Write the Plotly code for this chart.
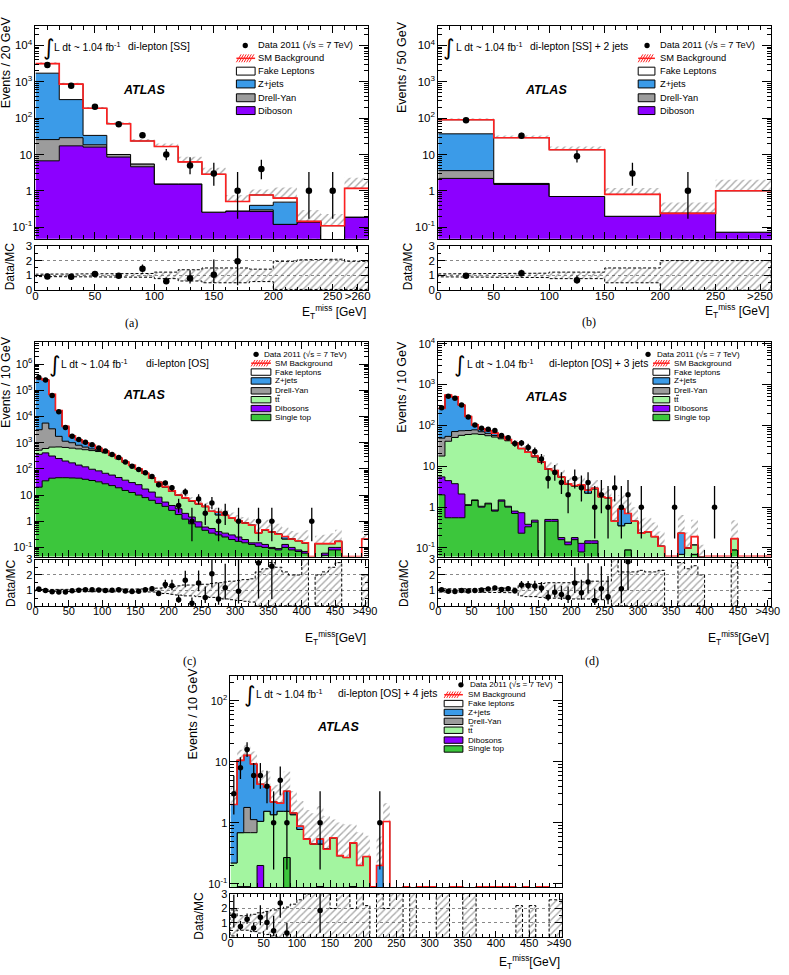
import numpy as np
import plotly.graph_objects as go

W, H = 789, 975
FONT = "Liberation Sans, Arial, Helvetica, sans-serif"
SERIF = "Liberation Serif, DejaVu Serif, serif"
PURPLE = '#8c00ff'; GRAY = '#9c9c9c'; BLUE = '#3b9be8'
LGREEN = '#a3f5a0'; DGREEN = '#3cc63c'; RED = '#ff2020'

# ---------------- (a) di-lepton [SS], 20 GeV bins (last = overflow >260)
a_edges = [0, 20, 40, 60, 80, 100, 120, 140, 160, 180, 200, 220, 240, 260, 280]
a_diboson = [6.7, 17.3, 16, 8.5, 4.6, 1.55, 1.55, 0.26, 0.28, 0.27, 0.12, 0.14, 0, 0.19]
a_drellyan = [19, 11.7, 2.5, 1.5, 0.9, 0, 0, 0, 0, 0.03, 0, 0, 0, 0]
a_zjets = [1694, 294, 15, 0, 0, 0, 0, 0, 0, 0.1, 0.37, 0, 0, 0]
a_fake = [1440, 540, 153, 60, 18, 15, 4.7, 2.6, 0.23, 0.37, 0.14, 0.005, 0.11, 0.98]
a_data = [2900, 780, 205, 68, 34, 10, 5, 3, 1, 4, 0, 1, 1, 0]
a_rel = [0.08, 0.09, 0.08, 0.10, 0.13, 0.22, 0.38, 0.5, 0.5, 0.42, 0.95, 1.05, 1.1, 0.95]

# ---------------- (b) di-lepton [SS] + 2 jets, 50 GeV bins (last = overflow >250)
b_edges = [0, 50, 100, 150, 200, 250, 300]
b_diboson = [2.2, 1.5, 0.7, 0.2, 0.24, 0.073]
b_drellyan = [1.4, 0.1, 0, 0, 0, 0]
b_zjets = [33.4, 0, 0, 0, 0, 0]
b_fake = [53, 27.4, 12.8, 0.6, 0, 0.93]
b_data = [88, 33, 9, 3, 1, 0]
b_rel = [0.1, 0.15, 0.22, 0.5, 1.0, 1.0]

# ---------------- (c) di-lepton [OS], 10 GeV bins (last = overflow >490)
c_edges = list(range(0, 510, 10))
c_singletop = [20, 35, 44, 46, 46, 45, 44, 40, 36, 32,
               27, 23, 19, 15, 12.5, 10, 8, 6.3, 4.8, 3.7,
               2.6, 1.8, 1.2, 0.8, 0.6, 0.45, 0.35, 0.3, 0.25, 0.2,
               0.17, 0.15, 0.13, 0.11, 0.1, 0.09, 0.08, 0.1, 0.08, 0.07,
               0.06, 0, 0, 0.05, 0.08, 0.08, 0, 0, 0, 0]
c_diboson = [340, 375, 266, 204, 154, 125, 96, 80, 61, 52,
             41, 35, 28, 22, 17.5, 15, 9, 6.7, 3.5, 1.7,
             1.4, 1.2, 0.8, 0.65, 0.35, 0.15, 0.18, 0.1, 0.1, 0.1,
             0.08, 0.05, 0.02, 0.04, 0.03, 0.01, 0.01, 0.03, 0.02, 0.01,
             0.01, 0, 0, 0.01, 0.02, 0.02, 0, 0, 0, 0]
c_ttbar = [160, 190, 370, 440, 460, 450, 440, 420, 403, 376,
           342, 262, 192, 140, 100, 71, 49.5, 32, 22, 15.1,
           10.1, 6.7, 5.6, 4.45, 3.6, 3.0, 1.82, 1.35, 1.3, 1.05,
           0.8, 0.66, 0.55, 0.21, 0.34, 0.29, 0.23, 0.08, 0.11, 0.10,
           0.08, 0, 0.14, 0.08, 0.04, 0.07, 0, 0, 0, 0]
c_drellyan = [2620, 5030, 2720, 1060, 480, 380, 220, 140, 80, 50,
              30, 20, 10, 6, 4, 2, 0, 0, 0, 0,
              0, 0, 0, 0, 0, 0, 0, 0, 0, 0,
              0, 0, 0, 0, 0, 0, 0, 0, 0, 0,
              0, 0, 0, 0, 0, 0, 0, 0, 0, 0]
c_zjets = [276860, 244370, 66600, 15250, 3060, 800, 500, 320, 210, 100,
           40, 10, 8, 5, 3, 2, 1.5, 1, 0.7, 0.5,
           0.4, 0.3, 0.2, 0.2, 0.15, 0.1, 0.05, 0.45, 0.05, 0,
           0, 0, 0, 0, 0, 0, 0, 0.05, 0, 0,
           0, 0, 0, 0, 0, 0, 0, 0, 0, 0]
c_fake = [0, 0, 0, 0, 0, 0, 0, 0, 0, 0,
          0, 0, 0, 0, 0, 0, 0, 0, 0, 0,
          0, 0, 0, 0, 0, 0, 0, 0, 0, 0,
          0, 0, 0, 0, 0, 0, 0, 0, 0, 0,
          0, 0, 0, 0, 0, 0, 0, 0, 0, 0.21]
c_data = [308000, 250000, 64000, 15300, 3780, 1764, 1326, 1050, 830, 628,
          480, 357, 270, 182, 127, 95, 71, 51, 25, 29,
          19, 4, 13, 1, 7, 2, 5, 1, 2, 0,
          1, 0, 0, 1, 0, 1, 0, 0, 0, 0,
          0, 1, 0, 0, 0, 0, 0, 0, 0, 0]
c_rel = [0.06, 0.06, 0.06, 0.06, 0.06, 0.06, 0.06, 0.07, 0.07, 0.07,
         0.08, 0.08, 0.08, 0.08, 0.08, 0.09, 0.09, 0.1, 0.15, 0.2,
         0.25, 0.3, 0.35, 0.35, 0.4, 0.4, 0.45, 0.5, 0.55, 0.6,
         0.65, 0.7, 0.75, 1.2, 1.4, 1.8, 1.5, 1.2, 1.0, 1.0,
         2.0, 0, 1.0, 1.2, 1.5, 1.8, 0, 0, 0, 1.0]

# ---------------- (d) di-lepton [OS] + 3 jets
d_edges = list(range(0, 510, 10))
d_singletop = [2.0, 0.55, 0.55, 0.55, 1.1, 1.45, 1.0, 1.2, 0.8, 1.4,
               1.0, 0.7, 0.23, 0.33, 0.43, 0, 0.45, 0.45, 0.16, 0.12,
               0.16, 0.08, 0.13, 0.13, 0, 0, 0, 0, 0.09, 0,
               0, 0, 0, 0, 0, 0, 0, 0, 0.07, 0,
               0, 0, 0, 0, 0.09, 0, 0, 0, 0, 0]
d_diboson = [3.5, 3.9, 3.2, 1.55, 0.05, 0.05, 0.05, 0.05, 0.05, 0.1,
             0.05, 0.1, 0.5, 0.05, 0.05, 0.05, 0.05, 0.05, 0.02, 0.02,
             0.02, 0.05, 0.02, 0.02, 0, 0, 0, 0, 0, 0,
             0, 0, 0, 0, 0, 0, 0, 0, 0, 0,
             0, 0, 0, 0, 0, 0, 0, 0, 0, 0]
d_ttbar = [12.3, 36.5, 47, 55, 58.8, 60.5, 59, 54.7, 51, 45.5,
           41, 35.2, 26.3, 21.6, 16.5, 12.4, 8, 7.3, 5.2, 3.46,
           3.1, 3.27, 2.05, 2.65, 1.8, 1.7, 0.45, 0.35, 0.31, 0.45,
           0.23, 0.25, 0.19, 0.11, 0, 0, 0.07, 0.1, 0.05, 0.06,
           0, 0, 0, 0, 0.08, 0, 0, 0, 0, 0]
d_drellyan = [31, 13, 20, 17, 15, 16, 10, 8, 5, 3,
              1.5, 0.5, 0, 0, 0, 0, 0, 0, 0, 0,
              0, 0, 0, 0, 0, 0, 0, 0, 0, 0,
              0, 0, 0, 0, 0, 0, 0, 0, 0, 0,
              0, 0, 0, 0, 0, 0, 0, 0, 0, 0]
d_zjets = [211, 496, 429, 241, 90, 25, 13, 10, 8, 3.5,
           1.5, 0.5, 0.3, 0, 0.8, 0.5, 0.1, 0.1, 0.1, 0.1,
           0.1, 0.1, 0.4, 0.1, 0, 0, 0, 0.55, 0.3, 0,
           0, 0, 0, 0, 0, 0, 0.16, 0, 0, 0,
           0, 0, 0, 0, 0, 0, 0, 0, 0, 0]
d_fake = [0, 0, 0, 0, 0, 0, 0, 0, 0, 0,
          0, 0, 0, 0, 0, 0, 0, 0, 0, 0,
          0, 0, 0, 0, 0, 0, 0, 0, 0, 0,
          0, 0, 0, 0, 0, 0, 0, 0, 0.07, 0,
          0, 0, 0, 0, 0, 0, 0, 0, 0, 0]
d_data = [270, 520, 465, 315, 160, 103, 85, 81, 75, 57,
          50, 36, 37, 29, 23, 15, 5, 7, 4, 2,
          5, 3, 4, 1, 2, 1, 3, 1, 2, 0,
          1, 0, 0, 0, 0, 1, 0, 0, 0, 0,
          0, 1, 0, 0, 0, 0, 0, 0, 0, 0]
d_rel = [0.1, 0.08, 0.08, 0.08, 0.1, 0.1, 0.12, 0.12, 0.12, 0.15,
         0.15, 0.15, 0.35, 0.4, 0.4, 0.45, 0.5, 0.5, 0.5, 0.5,
         0.55, 0.55, 0.55, 0.6, 0.6, 0.6, 2.5, 1.2, 1.2, 1.2,
         1.3, 1.2, 1.2, 1.3, 0, 0, 1.8, 1.4, 1.6, 1.0,
         0, 0, 0, 0, 1.8, 0, 0, 0, 0, 0]

# ---------------- (e) di-lepton [OS] + 4 jets
e_edges = list(range(0, 510, 10))
e_singletop = [0, 0, 0, 0, 0, 0, 0, 0, 0.27, 0,
               0, 0, 0, 0.09, 0, 0, 0, 0, 0.09, 0,
               0, 0, 0, 0, 0, 0, 0, 0, 0, 0,
               0, 0, 0, 0, 0, 0, 0, 0, 0, 0,
               0, 0, 0, 0, 0, 0, 0, 0, 0, 0]
e_diboson = [0, 0.09, 0.09, 0, 0.2, 0, 0, 0, 0, 0,
             0, 0, 0, 0, 0, 0, 0, 0, 0, 0,
             0, 0, 0, 0, 0, 0, 0, 0, 0, 0,
             0, 0, 0, 0, 0, 0, 0, 0, 0, 0,
             0, 0, 0, 0, 0, 0, 0, 0, 0, 0]
e_ttbar = [0.22, 0.6, 0.6, 0.69, 0.86, 1.55, 1.36, 1.55, 1.28, 1.36,
           0.78, 0.54, 0.45, 0.36, 0.37, 0.57, 0.29, 0.27, 0.38, 0.2,
           0.28, 0, 0, 0, 0.01, 0.01, 0, 0.01, 0, 0,
           0, 0.01, 0.01, 0, 0, 0.01, 0.01, 0, 0, 0,
           0, 0, 0, 0, 0, 0, 0, 0, 0, 0]
e_drellyan = [0, 0, 1.1, 0.44, 0, 0, 0, 0, 0, 0,
              0, 0, 0, 0, 0, 0, 0, 0, 0, 0,
              0, 0, 0, 0, 0, 0, 0, 0, 0, 0,
              0, 0, 0, 0, 0, 0, 0, 0, 0, 0,
              0, 0, 0, 0, 0, 0, 0, 0, 0, 0]
e_zjets = [1.78, 9.9, 11, 8.1, 3.24, 2.35, 0.84, 0.55, 1.75, 0.09,
           0.1, 0, 0, 0.09, 0, 0, 0, 0, 0, 0,
           0, 0, 0.2, 0, 0, 0, 0, 0, 0, 0,
           0, 0, 0, 0, 0, 0, 0, 0, 0, 0,
           0, 0, 0, 0, 0, 0, 0, 0, 0, 0]
e_fake = [0, 0, 0, 0, 0, 0, 0, 0, 0, 0,
          0, 0, 0, 0, 0, 0, 0, 0, 0, 0,
          0, 0, 0, 1.05, 0, 0, 0, 0, 0, 0,
          0, 0, 0, 0, 0, 0, 0, 0, 0, 0,
          0, 0, 0, 0.01, 0, 0.01, 0, 0, 0.01, 0.01]
e_data = [3, 8, 16, 6, 6, 4, 1, 5, 1, 0,
          0, 0, 0, 1, 0, 0, 0, 0, 0, 0,
          0, 0, 1, 0, 0, 0, 0, 0, 0, 0,
          0, 0, 0, 0, 0, 0, 0, 0, 0, 0,
          0, 0, 0, 0, 0, 0, 0, 0, 0, 0]
e_rel = [0.9, 0.5, 0.5, 0.6, 0.7, 0.8, 0.9, 1.0, 1.1, 1.3,
         1.6, 2.0, 2.2, 2.5, 2.5, 1.0, 2.5, 2.5, 1.0, 2.5,
         1.2, 0, 2.0, 1.0, 2.5, 2.5, 0, 2.5, 0, 0,
         0, 2.5, 2.5, 0, 0, 2.5, 2.5, 0, 0, 0,
         0, 0, 0, 1.2, 0, 1.2, 0, 0, 1.6, 1.6]

# tick labels
log_vals = [0.1, 1, 10, 100, 1000, 1e4, 1e5, 1e6]
log_text = ['10<sup>-1</sup>', '1', '10', '10<sup>2</sup>', '10<sup>3</sup>',
            '10<sup>4</sup>', '10<sup>5</sup>', '10<sup>6</sup>']
a_xt = [0, 50, 100, 150, 200, 250, 271]
a_xl = ['0', '50', '100', '150', '200', '250', '>260']
b_xt = [0, 50, 100, 150, 200, 250, 290]
b_xl = ['0', '50', '100', '150', '200', '250', '>250']
c_xt = [0, 50, 100, 150, 200, 250, 300, 350, 400, 450, 495]
c_xl = ['0', '50', '100', '150', '200', '250', '300', '350', '400', '450', '>490']

SS_LEG = ['Fake Leptons', 'Z+jets', 'Drell-Yan', 'Diboson']
OS_LEG = ['Fake leptons', 'Z+jets', 'Drell-Yan', 'TTBAR', 'Dibosons', 'Single top']

PANELS = [
    dict(edges=a_edges, stack=[(a_diboson, PURPLE), (a_drellyan, GRAY), (a_zjets, BLUE), (a_fake, 'white')],
         leg=SS_LEG, legcol=['white', BLUE, GRAY, PURPLE],
         data=a_data, rel=a_rel, box=(33, 371, 19, 235, 242, 287), yr=(-1.32, 4.54),
         xt=a_xt, xl=a_xl, tfs=11.5, ytitle='Events / 20 GeV', ytx=3, yty=56, rtx=8, rty=263,
         xtitle='E<sub>T</sub><sup>miss</sup> [GeV]', xty=309, cap='(a)', capx=130, capy=320,
         head='di-lepton [SS]', hx=(46, 50, 125), hy=40, atlas=(143, 84),
         L=dict(rows=[39, 52, 65, 78, 92, 105], sx=(237, 256), tx=257, dotx=246, dtx=257, h=8, fs=9.3), ms=6.5),
    dict(edges=b_edges, stack=[(b_diboson, PURPLE), (b_drellyan, GRAY), (b_zjets, BLUE), (b_fake, 'white')],
         leg=SS_LEG, legcol=['white', BLUE, GRAY, PURPLE],
         data=b_data, rel=b_rel, box=(442, 780, 19, 235, 242, 287), yr=(-1.32, 4.54),
         xt=b_xt, xl=b_xl, tfs=11.5, ytitle='Events / 50 GeV', ytx=405, yty=61, rtx=412, rty=263,
         xtitle='E<sub>T</sub><sup>miss</sup> [GeV]', xty=308, cap='(b)', capx=595, capy=319,
         head='di-lepton [SS] + 2 jets', hx=(452, 458, 533), hy=40, atlas=(551, 84),
         L=dict(rows=[39, 52, 65, 78, 92, 105], sx=(645, 662), tx=665, dotx=654, dtx=665, h=8, fs=9.3), ms=6.5),
    dict(edges=c_edges, stack=[(c_singletop, DGREEN), (c_diboson, PURPLE), (c_ttbar, LGREEN), (c_drellyan, GRAY),
                               (c_zjets, BLUE), (c_fake, 'white')],
         leg=OS_LEG, legcol=['white', BLUE, GRAY, LGREEN, PURPLE, DGREEN],
         data=c_data, rel=c_rel, box=(33, 371, 340, 557, 560, 607), yr=(-1.35, 6.83),
         xt=c_xt, xl=c_xl, tfs=11, ytitle='Events / 10 GeV', ytx=3, yty=380, rtx=8, rty=584,
         xtitle='E<sub>T</sub><sup>miss</sup>[GeV]', xty=640, cap='(c)', capx=189, capy=663,
         head='di-lepton [OS]', hx=(52, 57, 143), hy=361, atlas=(143, 393),
         L=dict(rows=[352, 361, 370, 379, 389, 398, 407, 416], sx=(252, 272), tx=274, dotx=257, dtx=263, h=6.5, fs=8.1), ms=5.5),
    dict(edges=d_edges, stack=[(d_singletop, DGREEN), (d_diboson, PURPLE), (d_ttbar, LGREEN), (d_drellyan, GRAY),
                               (d_zjets, BLUE), (d_fake, 'white')],
         leg=OS_LEG, legcol=['white', BLUE, GRAY, LGREEN, PURPLE, DGREEN],
         data=d_data, rel=d_rel, box=(442, 780, 340, 557, 560, 607), yr=(-1.21, 4.03),
         xt=c_xt, xl=c_xl, tfs=11, ytitle='Events / 10 GeV', ytx=405, yty=385, rtx=407, rty=584,
         xtitle='E<sub>T</sub><sup>miss</sup>[GeV]', xty=640, cap='(d)', capx=598, capy=663,
         head='di-lepton [OS] + 3 jets', hx=(464, 469, 552), hy=361, atlas=(551, 395),
         L=dict(rows=[352, 361, 370, 379, 389, 398, 407, 416], sx=(660, 677), tx=679, dotx=655, dtx=662, h=6.5, fs=8.1), ms=5.5),
    dict(edges=e_edges, stack=[(e_singletop, DGREEN), (e_diboson, PURPLE), (e_ttbar, LGREEN), (e_drellyan, GRAY),
                               (e_zjets, BLUE), (e_fake, 'white')],
         leg=OS_LEG, legcol=['white', BLUE, GRAY, LGREEN, PURPLE, DGREEN],
         data=e_data, rel=e_rel, box=(231, 568, 678, 892, 899, 943), yr=(-1.054, 2.41),
         xt=c_xt, xl=c_xl, tfs=11, ytitle='Events / 10 GeV', ytx=193, yty=716, rtx=199, rty=921,
         xtitle='E<sub>T</sub><sup>miss</sup>[GeV]', xty=968, cap=None, capx=0, capy=0,
         head='di-lepton [OS] + 4 jets', hx=(250, 255, 338), hy=696, atlas=(340, 730),
         L=dict(rows=[687, 697, 706, 715, 724, 733, 743, 752], sx=(448, 467), tx=470, dotx=465, dtx=472, h=6.5, fs=8.1), ms=5.5),
]

FLOOR = 1e-6


def X(p):
    return p / W


def Y(p):
    return 1 - p / H


def garwood(n):
    n = np.asarray(n, float)
    ns = np.maximum(n, 1e-9)
    lo = np.where(n > 0, ns * (1 - 1 / (9 * ns) - 1 / (3 * np.sqrt(ns))) ** 3, 0.0)
    up = (n + 1) * (1 - 1 / (9 * (n + 1)) + 1 / (3 * np.sqrt(n + 1))) ** 3
    return n - lo, up - n


def band_outline(edges, lo, hi, mask):
    xs, ys = [], []
    n = len(mask)
    i = 0
    while i < n:
        if not mask[i]:
            i += 1
            continue
        j = i
        while j + 1 < n and mask[j + 1]:
            j += 1
        ux, uy, lx, ly = [], [], [], []
        for k in range(i, j + 1):
            ux += [edges[k], edges[k + 1]]; uy += [hi[k], hi[k]]
            lx += [edges[k], edges[k + 1]]; ly += [lo[k], lo[k]]
        xs += ux + lx[::-1] + [ux[0], None]
        ys += uy + ly[::-1] + [uy[0], None]
        i = j + 1
    return xs, ys


def sid(n):
    return '' if n == 1 else str(n)


fig = go.Figure()
shapes, annos = [], []
lay = {}
PAT = dict(shape='/', fgcolor='#555555', bgcolor='rgba(0,0,0,0)', size=5, solidity=0.28)

for i, P in enumerate(PANELS):
    mi, ri = 2 * i + 1, 2 * i + 2
    xm, ym, xr, yr = 'x' + sid(mi), 'y' + sid(mi), 'x' + sid(ri), 'y' + sid(ri)
    edges = np.array(P['edges'], float)
    cen = 0.5 * (edges[:-1] + edges[1:])
    wid = np.diff(edges)
    comps = np.array([s[0] for s in P['stack']], float)
    cum = np.cumsum(comps, axis=0)
    total = cum[-1]
    rel = np.array(P['rel'], float)
    data = np.array(P['data'], float)
    ybot = 10 ** (P['yr'][0] + 0.004)

    def sy(v, fl=FLOOR):
        v = np.where(v > 0, v, fl)
        return np.append(v, v[-1])

    # stack as filled steps
    fig.add_trace(go.Scatter(x=edges, y=sy(np.zeros_like(total)), mode='lines',
                             line=dict(width=0, shape='hv'), xaxis=xm, yaxis=ym, hoverinfo='skip'))
    for (vals, col), c in zip(P['stack'], cum):
        fig.add_trace(go.Scatter(x=edges, y=sy(c), mode='lines', fill='tonexty', fillcolor=col,
                                 line=dict(color='black', width=1, shape='hv'),
                                 xaxis=xm, yaxis=ym, hoverinfo='skip'))
    # uncertainty band (hatched)
    has = (total > 0) & (rel > 0)
    hi = total * (1 + rel)
    lo = np.maximum(total * (1 - rel), FLOOR)
    fig.add_trace(go.Bar(x=cen[has], y=(hi - lo)[has], base=lo[has], width=wid[has],
                         marker=dict(color='rgba(0,0,0,0)', line=dict(width=0), pattern=PAT),
                         xaxis=xm, yaxis=ym, hoverinfo='skip'))
    # SM background line
    fig.add_trace(go.Scatter(x=edges, y=sy(total, ybot), mode='lines',
                             line=dict(color=RED, width=1.6, shape='hv'),
                             xaxis=xm, yaxis=ym, hoverinfo='skip'))
    # data
    el, eu = garwood(data)
    m = data > 0
    fig.add_trace(go.Scatter(x=cen[m], y=data[m], mode='markers',
                             marker=dict(color='black', size=P['ms']),
                             error_y=dict(type='data', symmetric=False, array=eu[m], arrayminus=el[m],
                                          color='black', thickness=1.3, width=0),
                             xaxis=xm, yaxis=ym, hoverinfo='skip'))
    # ratio band
    rhi = 1 + rel
    rlo = np.maximum(1 - rel, 0)
    fig.add_trace(go.Bar(x=cen[has], y=(rhi - rlo)[has], base=rlo[has], width=wid[has],
                         marker=dict(color='rgba(0,0,0,0)', line=dict(width=0), pattern=PAT),
                         xaxis=xr, yaxis=yr, hoverinfo='skip'))
    ox, oy = band_outline(edges, rlo, rhi, has)
    fig.add_trace(go.Scatter(x=ox, y=oy, mode='lines', line=dict(color='black', width=1, dash='3px,2px'),
                             xaxis=xr, yaxis=yr, hoverinfo='skip', connectgaps=False))
    # ratio points
    safe_t = np.where(total > 0, total, 1)
    r = np.where(total > 0, data / safe_t, np.nan)
    m2 = (data > 0) & (total > 0) & (r <= 3.05)
    fig.add_trace(go.Scatter(x=cen[m2], y=r[m2], mode='markers',
                             marker=dict(color='black', size=P['ms']),
                             error_y=dict(type='data', symmetric=False, array=(eu / safe_t)[m2],
                                          arrayminus=(el / safe_t)[m2],
                                          color='black', thickness=1.3, width=0),
                             xaxis=xr, yaxis=yr, hoverinfo='skip'))

    # axes
    x0, x1, mt, mb, rt, rb = P['box']
    xmax = P['edges'][-1]
    ymaxexp = P['yr'][1]
    tv = [v for v in log_vals if np.log10(v) <= ymaxexp]
    tt = log_text[:len(tv)]
    tickfont = dict(family=FONT, size=P['tfs'], color='black')
    common = dict(showline=True, linecolor='black', linewidth=1, mirror='ticks', ticks='inside',
                  tickcolor='black', showgrid=False, zeroline=False, layer='above traces')
    lay['xaxis' + sid(mi)] = dict(domain=[X(x0), X(x1)], anchor=ym,
                                  range=[0, xmax], showticklabels=False, ticklen=7, dtick=50, tick0=0,
                                  minor=dict(ticks='inside', ticklen=4, dtick=10, tickcolor='black'), **common)
    lay['yaxis' + sid(mi)] = dict(domain=[Y(mb), Y(mt)], anchor=xm, type='log', range=list(P['yr']),
                                  tickmode='array', tickvals=tv, ticktext=tt, ticklen=9, tickfont=tickfont,
                                  minor=dict(ticks='inside', ticklen=4, dtick='D1', tickcolor='black'), **common)
    lay['xaxis' + sid(ri)] = dict(domain=[X(x0), X(x1)], anchor=yr, range=[0, xmax],
                                  tickmode='array', tickvals=P['xt'], ticktext=P['xl'], ticklen=6,
                                  tickfont=tickfont, ticklabelstandoff=-5, tickangle=0,
                                  minor=dict(ticks='inside', ticklen=3, dtick=10, tickcolor='black'), **common)
    rc = dict(common); rc['showgrid'] = True
    lay['yaxis' + sid(ri)] = dict(domain=[Y(rb), Y(rt)], anchor=xr, range=[0, 3], tickmode='array',
                                  tickvals=[0, 1, 2, 3], ticktext=['0', '1', '2', '3'], ticklen=7,
                                  tickfont=tickfont, gridcolor='#888888', griddash='dot', gridwidth=1,
                                  minor=dict(ticks='inside', ticklen=3, dtick=0.5, tickcolor='black'), **rc)

    # titles
    annos.append(dict(text=P['ytitle'], x=X(P['ytx']), y=Y(P['yty']), xref='paper', yref='paper',
                      textangle=-90, showarrow=False, xanchor='center', yanchor='middle',
                      font=dict(family=FONT, size=12.5, color='black')))
    annos.append(dict(text='Data/MC', x=X(P['rtx']), y=Y(P['rty']), xref='paper', yref='paper',
                      textangle=-90, showarrow=False, xanchor='center', yanchor='middle',
                      font=dict(family=FONT, size=12, color='black')))
    annos.append(dict(text=P['xtitle'], x=X(x1), y=Y(P['xty']), xref='paper', yref='paper',
                      showarrow=False, xanchor='right', yanchor='middle',
                      font=dict(family=FONT, size=12, color='black')))
    if P['cap']:
        annos.append(dict(text=P['cap'], x=X(P['capx']), y=Y(P['capy']), xref='paper', yref='paper',
                          showarrow=False, xanchor='center', yanchor='middle',
                          font=dict(family=SERIF, size=12, color='black')))
    # header
    ix, tx, lx = P['hx']
    annos.append(dict(text='\u222b', x=X(ix), y=Y(P['hy'] + 1), xref='paper', yref='paper', showarrow=False,
                      xanchor='center', yanchor='middle', font=dict(family='DejaVu Sans', size=22, color='black')))
    annos.append(dict(text='L dt ~ 1.04 fb<sup>-1</sup>', x=X(tx), y=Y(P['hy']), xref='paper', yref='paper',
                      showarrow=False, xanchor='left', yanchor='middle',
                      font=dict(family=FONT, size=10.3, color='black')))
    annos.append(dict(text=P['head'], x=X(lx), y=Y(P['hy']), xref='paper', yref='paper',
                      showarrow=False, xanchor='left', yanchor='middle',
                      font=dict(family=FONT, size=10.3, color='black')))
    annos.append(dict(text='<b><i>ATLAS</i></b>', x=X(P['atlas'][0]), y=Y(P['atlas'][1]), xref='paper',
                      yref='paper', showarrow=False, xanchor='center', yanchor='middle',
                      font=dict(family=FONT, size=12.5, color='black')))

    # legend (drawn)
    L = P['L']
    rows = L['rows']
    h = L['h']
    fs = L['fs']
    sx0, sx1 = L['sx']
    yc = rows[0]
    shapes.append(dict(type='circle', xref='paper', yref='paper', x0=X(L['dotx'] - 2.7), x1=X(L['dotx'] + 2.7),
                       y0=Y(yc + 2.7), y1=Y(yc - 2.7), fillcolor='black', line=dict(color='black', width=0)))
    annos.append(dict(text='Data 2011 (\u221as = 7 TeV)', x=X(L['dtx']), y=Y(yc), xref='paper', yref='paper',
                      showarrow=False, xanchor='left', yanchor='middle',
                      font=dict(family=FONT, size=fs, color='black')))
    yc = rows[1]
    segs = []
    xa = sx0
    while xa + h * 0.6 <= sx1 + 0.01:
        segs.append('M%.5f,%.5f L%.5f,%.5f' % (X(xa), Y(yc + h / 2), X(xa + h * 0.6), Y(yc - h / 2)))
        xa += 2.6
    shapes.append(dict(type='path', xref='paper', yref='paper', path=' '.join(segs),
                       line=dict(color=RED, width=1)))
    shapes.append(dict(type='line', xref='paper', yref='paper', x0=X(sx0), x1=X(sx1), y0=Y(yc), y1=Y(yc),
                       line=dict(color=RED, width=1.5)))
    annos.append(dict(text='SM Background', x=X(L['tx']), y=Y(yc), xref='paper', yref='paper',
                      showarrow=False, xanchor='left', yanchor='middle',
                      font=dict(family=FONT, size=fs, color='black')))
    for k, (lab, col) in enumerate(zip(P['leg'], P['legcol'])):
        yc = rows[2 + k]
        shapes.append(dict(type='rect', xref='paper', yref='paper', x0=X(sx0), x1=X(sx1),
                           y0=Y(yc + h / 2), y1=Y(yc - h / 2), fillcolor=col,
                           line=dict(color='black', width=1)))
        if lab == 'TTBAR':
            annos.append(dict(text='tt', x=X(L['tx']), y=Y(yc), xref='paper', yref='paper',
                              showarrow=False, xanchor='left', yanchor='middle',
                              font=dict(family=FONT, size=fs, color='black')))
            shapes.append(dict(type='line', xref='paper', yref='paper', x0=X(L['tx'] + 4.4), x1=X(L['tx'] + 7.4),
                               y0=Y(yc - 4.4), y1=Y(yc - 4.4), line=dict(color='black', width=0.8)))
        else:
            annos.append(dict(text=lab, x=X(L['tx']), y=Y(yc), xref='paper', yref='paper',
                              showarrow=False, xanchor='left', yanchor='middle',
                              font=dict(family=FONT, size=fs, color='black')))

fig.update_layout(width=W, height=H, margin=dict(l=0, r=0, t=0, b=0), showlegend=False,
                  paper_bgcolor='white', plot_bgcolor='white', barmode='overlay',
                  shapes=shapes, annotations=annos, font=dict(family=FONT, color='black'), **lay)
fig.write_html('out.html')
